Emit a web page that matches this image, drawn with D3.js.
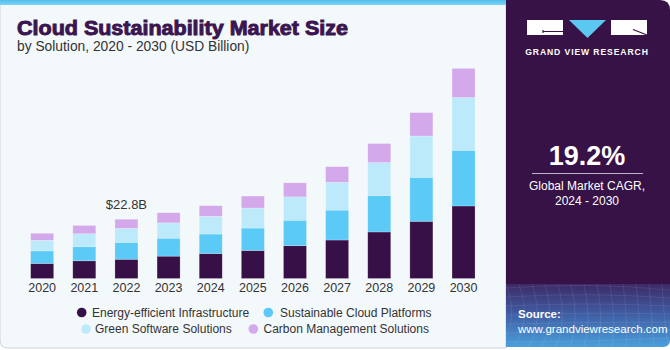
<!DOCTYPE html>
<html><head><meta charset="utf-8">
<script src="https://cdn.jsdelivr.net/npm/d3@7/dist/d3.min.js"></script>
<style>html,body{margin:0;padding:0;background:#fff}svg{display:block}</style>
</head><body>
<svg id="c" width="670" height="350"></svg>
<script>
const years = ["2020","2021","2022","2023","2024","2025","2026","2027","2028","2029","2030"];
const seriesNames = ["Energy-efficient Infrastructure","Sustainable Cloud Platforms","Green Software Solutions","Carbon Management Solutions"];
const energyEfficient = [5.8, 6.8, 7.4, 8.6, 9.6, 10.8, 12.6, 14.8, 17.9, 22.0, 27.9];
const cloudPlatforms  = [4.8, 5.4, 6.5, 6.9, 7.5, 8.6, 9.8, 11.5, 14.0, 16.9, 21.4];
const greenSoftware   = [4.1, 5.0, 5.4, 5.9, 6.8, 7.7, 9.0, 10.7, 12.7, 15.9, 20.3];
const carbonMgmt      = [2.7, 3.2, 3.5, 3.9, 4.1, 4.6, 5.4, 6.0, 7.3, 9.0, 11.2];
const colors = ["#371047","#5bcaf6","#bdeafa","#d4a9eb"];
const annotation = {year:"2022", label:"$22.8B"};

const svg = d3.select("#c");
const defs = svg.append("defs");

// left panel background
svg.append("path")
  .attr("d","M0,0 H506 V348 H8 Q0,348 0,340 Z")
  .attr("fill","#f3f8fb").attr("stroke","#cfd3d6").attr("stroke-width",1);
const tg = defs.append("linearGradient").attr("id","tg").attr("x1",0).attr("x2",0).attr("y1",0).attr("y2",1);
tg.append("stop").attr("offset","0%").attr("stop-color","#4fbfec");
tg.append("stop").attr("offset","100%").attr("stop-color","#7dd3f3");
svg.append("rect").attr("x",0).attr("y",0).attr("width",506).attr("height",5).attr("fill","url(#tg)");

// right panel
svg.append("path").attr("d","M506,0 H660 Q670,0 670,10 V284 H506 Z").attr("fill","#371246");
const sg = defs.append("linearGradient").attr("id","sg").attr("x1",0).attr("x2",0).attr("y1",0).attr("y2",1);
sg.append("stop").attr("offset","0%").attr("stop-color","#3d2a66");
sg.append("stop").attr("offset","45%").attr("stop-color","#3f5aa0");
sg.append("stop").attr("offset","100%").attr("stop-color","#4a9fdc");
svg.append("path").attr("d","M506,284 H670 V340 Q670,347 663,347 H506 Z").attr("fill","url(#sg)");
const gridG = svg.append("g").attr("stroke","#ffffff").attr("stroke-opacity",0.12).attr("stroke-width",0.7).attr("fill","none");
for(let i=0;i<14;i++){ gridG.append("path").attr("d",`M${506+i*13},284 Q${520+i*12},320 ${500+i*14},347`); }
for(let j=0;j<7;j++){ gridG.append("path").attr("d",`M506,${288+j*9} Q590,${282+j*10} 670,${290+j*8}`); }

// logo
const lg = svg.append("g");
lg.append("rect").attr("x",527).attr("y",20).attr("width",36).attr("height",15).attr("fill","#fff");
lg.append("path").attr("d","M543,31.5 H563 M543,30 V33").attr("stroke","#371246").attr("stroke-width",1.2);
lg.append("path").attr("d","M569,20 H606 L587.5,38 Z").attr("fill","#5bc8f2");
lg.append("rect").attr("x",611).attr("y",20).attr("width",36).attr("height",15).attr("fill","#fff");
lg.append("path").attr("d","M633,29.5 L647,35").attr("stroke","#371246").attr("stroke-width",1.2);
lg.append("text").attr("x",587).attr("y",55).attr("text-anchor","middle")
  .attr("font-family","Liberation Sans, Arial, sans-serif").attr("font-weight","bold").attr("font-size",8.6)
  .attr("letter-spacing",0.9).attr("fill","#fff").text("GRAND VIEW RESEARCH");

// CAGR
svg.append("text").attr("x",587).attr("y",165).attr("text-anchor","middle")
  .attr("font-family","Liberation Sans, Arial, sans-serif").attr("font-weight","bold").attr("font-size",27)
  .attr("fill","#fff").text("19.2%");
svg.append("line").attr("x1",532).attr("x2",643).attr("y1",173.5).attr("y2",173.5).attr("stroke","#bfb3c8").attr("stroke-width",1);
svg.append("text").attr("x",587).attr("y",190).attr("text-anchor","middle")
  .attr("font-family","Liberation Sans, Arial, sans-serif").attr("font-size",12).attr("fill","#fff").text("Global Market CAGR,");
svg.append("text").attr("x",587).attr("y",205).attr("text-anchor","middle")
  .attr("font-family","Liberation Sans, Arial, sans-serif").attr("font-size",12).attr("fill","#fff").text("2024 - 2030");

// source
svg.append("text").attr("x",518).attr("y",318).attr("font-family","Liberation Sans, Arial, sans-serif")
  .attr("font-weight","bold").attr("font-size",11.5).attr("fill","#fff").text("Source:");
svg.append("text").attr("x",518).attr("y",333).attr("font-family","Liberation Sans, Arial, sans-serif")
  .attr("font-size",11.5).attr("fill","#fff").text("www.grandviewresearch.com");

// titles
svg.append("text").attr("x",17).attr("y",35).attr("font-family","Liberation Sans, Arial, sans-serif")
  .attr("font-weight","900").attr("font-size",19.5).attr("fill","#3a1550")
  .attr("textLength",331).attr("lengthAdjust","spacingAndGlyphs").style("stroke","#3a1550").style("stroke-width",0.9)
  .text("Cloud Sustainability Market Size");
svg.append("text").attr("x",17).attr("y",51).attr("font-family","Liberation Sans, Arial, sans-serif")
  .attr("font-size",13.8).attr("fill","#333").text("by Solution, 2020 - 2030 (USD Billion)");

// chart
const data = years.map((y,i)=>({year:y, s0:energyEfficient[i], s1:cloudPlatforms[i], s2:greenSoftware[i], s3:carbonMgmt[i]}));
const stack = d3.stack().keys(["s0","s1","s2","s3"])(data);
const x = d3.scaleBand().domain(years).range([21.1,484.6]).paddingInner(0.454).paddingOuter(0.227);
const y = d3.scaleLinear().domain([0,90]).range([278.5,278.5-90*2.6]);

const g = svg.append("g");
g.selectAll("g.s").data(stack).join("g").attr("fill",(d,i)=>colors[i])
  .selectAll("rect").data(d=>d).join("rect")
  .attr("x",d=>x(d.data.year)).attr("width",x.bandwidth())
  .attr("y",d=>y(d[1])).attr("height",d=>y(d[0])-y(d[1]))
  .attr("stroke","#ffffff").attr("stroke-opacity",0.35).attr("stroke-width",0.6);

const ax = svg.append("g").attr("transform","translate(0,280)")
  .call(d3.axisBottom(x).tickSize(0).tickPadding(3));
ax.select(".domain").remove();
ax.selectAll("text").attr("font-family","Liberation Sans, Arial, sans-serif").attr("font-size",12.5).attr("fill","#333");

const ai = years.indexOf(annotation.year);
const tot = energyEfficient[ai]+cloudPlatforms[ai]+greenSoftware[ai]+carbonMgmt[ai];
svg.append("text").attr("x",x(annotation.year)+x.bandwidth()/2).attr("y",y(tot)-10.5).attr("text-anchor","middle")
  .attr("font-family","Liberation Sans, Arial, sans-serif").attr("font-size",13).attr("fill","#333").text(annotation.label);

// legend
const legPos = [{cx:81.7,cy:312.5,tx:92},{cx:268.3,cy:312.5,tx:280},{cx:86,cy:329,tx:95},{cx:253.3,cy:329,tx:263.5}];
const leg = svg.append("g");
seriesNames.forEach((n,i)=>{
  leg.append("circle").attr("cx",legPos[i].cx).attr("cy",legPos[i].cy).attr("r",4.8).attr("fill",colors[i]);
  leg.append("text").attr("x",legPos[i].tx).attr("y",legPos[i].cy+4.2).attr("font-family","Liberation Sans, Arial, sans-serif")
    .attr("font-size",12).attr("fill","#333").text(n);
});
</script>
</body></html>
